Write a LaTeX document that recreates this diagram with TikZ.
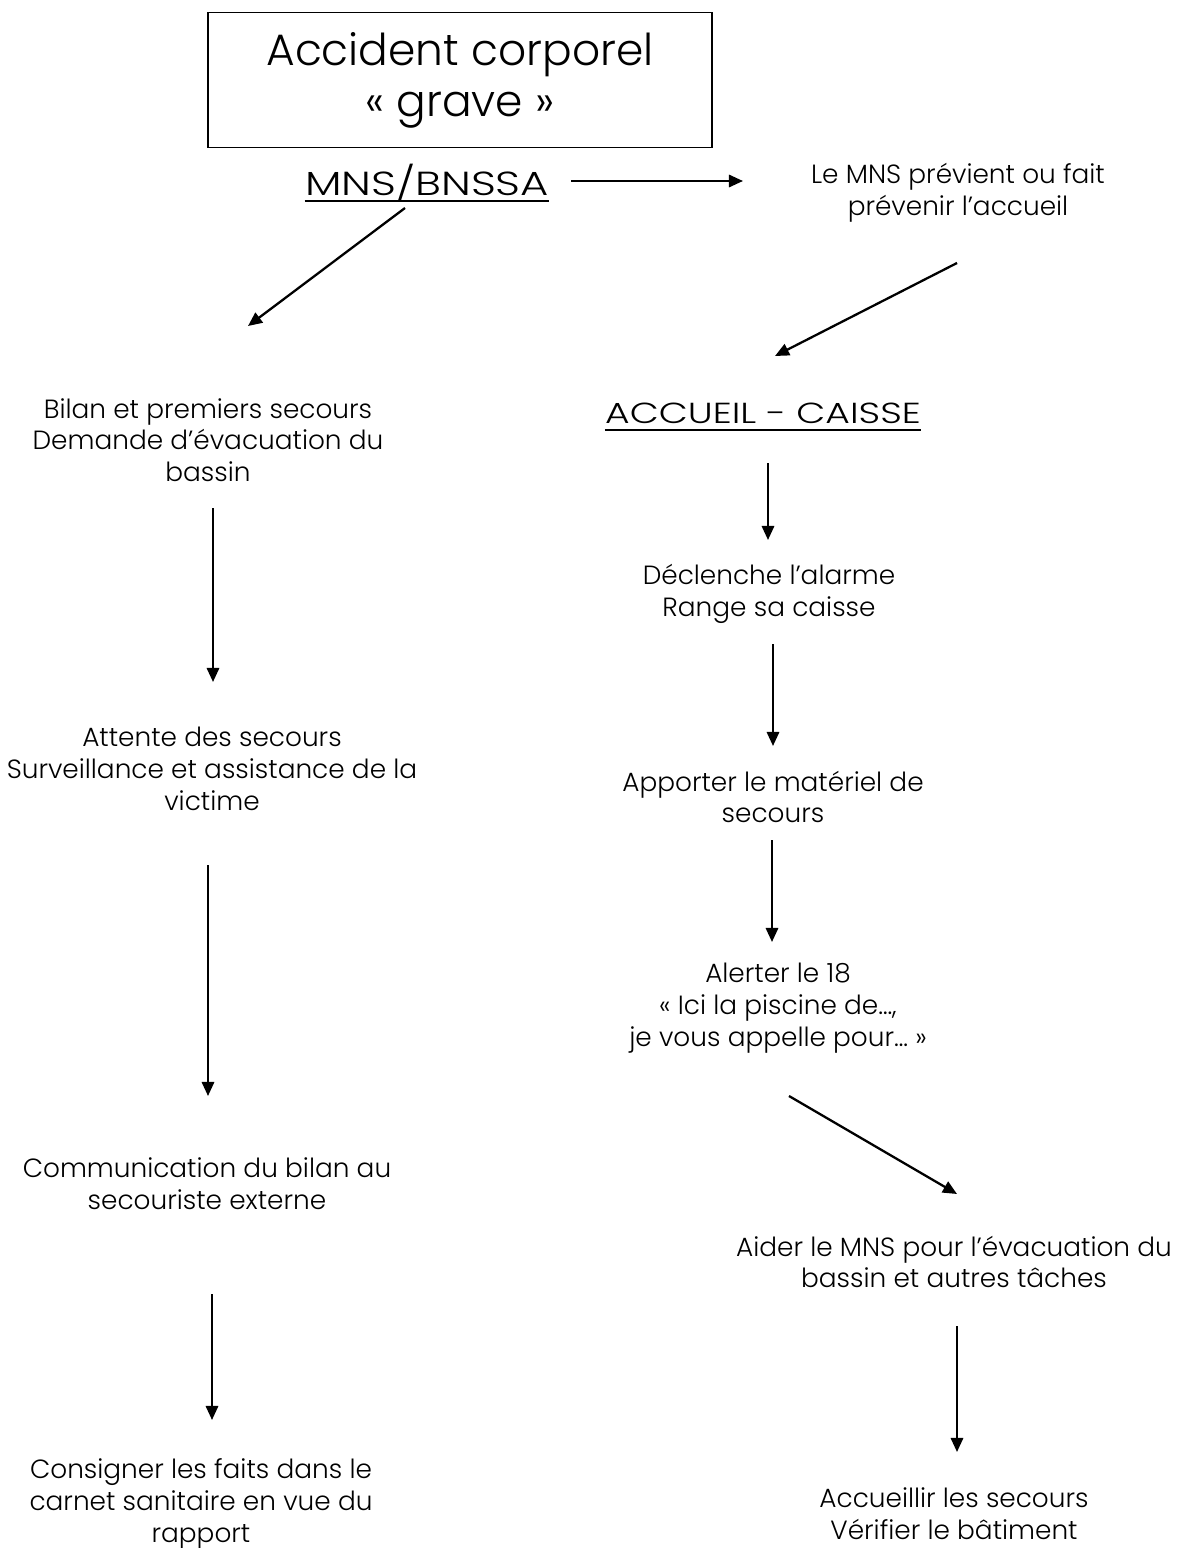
\documentclass[tikz,border=0pt]{standalone}
\usepackage{fontspec}
\setmainfont{Poppins}[UprightFont=* Light]
\newfontfamily\headfont{Poppins}[UprightFont=* Light, FakeStretch=1.3]
\usetikzlibrary{arrows.meta}

\begin{document}
\begin{tikzpicture}[x=0.02cm, y=-0.02cm,
	txt/.style={align=center, inner sep=0pt, font=\fontsize{15}{18.1}\selectfont},
	head/.style={inner sep=0pt, anchor=base},
	uline/.style={line width=1.1pt},
	arr/.style={line width=1.3pt, -{Triangle[length=8pt, width=7pt]}}]
	\useasboundingbox (0, 0) rectangle (1182, 1548);

	\node[draw, line width=1.1pt, minimum width=10.1cm, minimum height=2.7cm, inner sep=0pt, align=center, font=\fontsize{25}{29}\selectfont] (title) at (460, 80) {Accident corporel\\« grave »};

	% left column
	\node[head, font=\headfont\fontsize{19}{23}\selectfont] (mns) at (427, 195) {MNS/BNSSA};
	\node[txt] (bilan) at (208, 440) {Bilan et premiers secours\\Demande d’évacuation du\\bassin};
	\node[txt] (attente) at (212, 769) {Attente des secours\\Surveillance et assistance de la\\victime};
	\node[txt] (comm) at (207, 1184) {Communication du bilan au\\secouriste externe};
	\node[txt] (consign) at (201, 1504) {Consigner les faits dans le\\carnet sanitaire en vue du\\rapport};

	% right column
	\node[txt] (prev) at (958, 193) {Le MNS prévient ou fait\\prévenir l’accueil};
	\node[head, font=\headfont\fontsize{16.5}{20}\selectfont] (accueil) at (763, 423) {ACCUEIL - CAISSE};
	\node[txt] (declenche) at (769, 594) {Déclenche l’alarme\\Range sa caisse};
	\node[txt] (apporter) at (773, 797) {Apporter le matériel de\\secours};
	\node[txt] (alerter) at (778, 1008) {Alerter le 18\\« Ici la piscine de…,\\je vous appelle pour… »};
	\node[txt] (aider) at (954, 1262) {Aider le MNS pour l’évacuation du\\bassin et autres tâches};
	\node[txt] (accueillir) at (954, 1514) {Accueillir les secours\\Vérifier le bâtiment};

	% underlines of the two headings
	\draw[uline] ([shift={(0,6)}]mns.base west) -- ([shift={(0,6)}]mns.base east);
	\draw[uline] ([shift={(0,7)}]accueil.base west) -- ([shift={(0,7)}]accueil.base east);

	% arrows
	\draw[arr] ([shift={(144,-14)}]mns.base) -- ([shift={(-215,-12)}]prev.center);
	\draw[arr] ([shift={(-22,13)}]mns.base) -- ([shift={(40,-114)}]bilan.center);
	\draw[arr] ([shift={(-1,70)}]prev.center) -- ([shift={(12,-67)}]accueil.base);
	\draw[arr] ([shift={(5,68)}]bilan.center) -- ([shift={(1,-87)}]attente.center);
	\draw[arr] ([shift={(-4,96)}]attente.center) -- ([shift={(1,-88)}]comm.center);
	\draw[arr] ([shift={(5,110)}]comm.center) -- ([shift={(11,-84)}]consign.center);
	\draw[arr] ([shift={(5,40)}]accueil.base) -- ([shift={(-1,-54)}]declenche.center);
	\draw[arr] ([shift={(4,50)}]declenche.center) -- ([shift={(0,-51)}]apporter.center);
	\draw[arr] ([shift={(-1,43)}]apporter.center) -- ([shift={(-6,-66)}]alerter.center);
	\draw[arr] ([shift={(11,88)}]alerter.center) -- ([shift={(3,-68)}]aider.center);
	\draw[arr] ([shift={(3,64)}]aider.center) -- ([shift={(3,-62)}]accueillir.center);
\end{tikzpicture}
\end{document}
